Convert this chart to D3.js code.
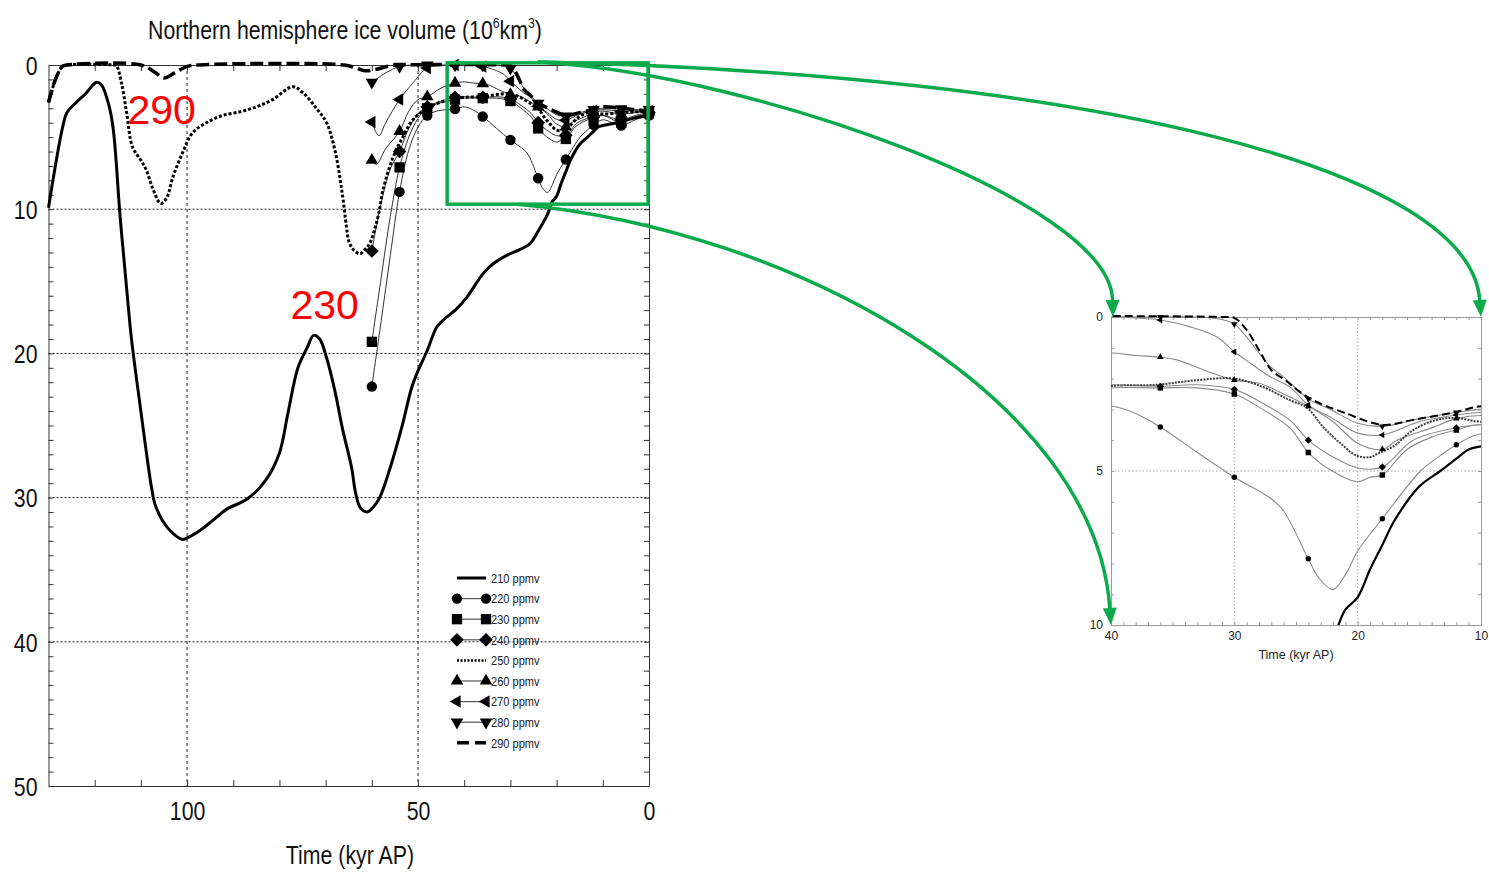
<!DOCTYPE html>
<html><head><meta charset="utf-8">
<script src="https://cdn.jsdelivr.net/npm/d3@7"></script>
<style>
body{margin:0;background:#fff;}
svg{display:block;}
.nar{font-family:"Liberation Sans",Arial,Helvetica,sans-serif;}
.reg{font-family:"Liberation Sans",Arial,Helvetica,sans-serif;}
</style></head><body>
<svg id="c" width="1489" height="872"></svg>
<script>
// ---------------- DATA (kyr AP, 10^6 km^3) ----------------
const seriesNames = ["210 ppmv","220 ppmv","230 ppmv","240 ppmv","250 ppmv","260 ppmv","270 ppmv","280 ppmv","290 ppmv"];

const ice210 = [[130,9.9],[127,4.4],[126,3.3],[124,2.6],[122,2.0],[119.6,1.2],[118.5,1.4],[117,2.7],[116,4.4],[114.5,10.5],[113,15.8],[112,19.1],[110.3,23.3],[108.8,26.9],[107.7,29.3],[107,30.4],[105.3,31.6],[103,32.5],[101,32.9],[100,32.8],[97.3,32.3],[94.5,31.6],[91.4,30.8],[87,30.1],[83,28.8],[80,26.9],[78.2,24.2],[76,21.0],[74,19.6],[72.6,18.75],[71.3,19.0],[69.8,20.3],[68,22.6],[66.3,25.3],[64.4,27.9],[63.5,29.7],[62.5,30.7],[61,31.0],[59.8,30.7],[58.3,30.0],[56,27.9],[53.5,25.1],[51.4,22.4],[50,21.2],[48,19.8],[46,18.2],[44.6,17.7],[41.6,16.9],[39.4,16.1],[36,14.5],[33.8,13.8],[30.8,13.2],[28,12.8],[25.8,12.4],[23.6,11.3],[21.9,10.3],[21,9.5],[20,9.1],[19,8.2],[18,7.4],[17,6.6],[15,5.5],[13.3,5.0],[12,4.6],[11,4.3],[10,4.2],[7,4.0],[3.5,3.7],[0,3.5]];

const ice220 = [[60,22.3],[58,17.8],[56,13.2],[54,8.8],[52,5.9],[50,4.3],[48,3.5],[46,3.2],[44,3.1],[42,3.05],[40,2.9],[38.2,3.1],[36,3.57],[33,4.4],[30,5.2],[27,5.9],[26,6.3],[24,7.85],[23.1,8.5],[22,8.85],[20.9,8.3],[20,7.6],[18,6.55],[14.9,5.0],[13.3,4.5],[12,4.15],[10,3.8],[6,4.2],[3,3.8],[0,3.5]];

const ice230 = [[60,19.2],[58,14.8],[56,10.5],[54,7.1],[52,5.0],[50,3.7],[48,3.0],[45,2.6],[42,2.4],[40,2.3],[36,2.3],[33,2.3],[30,2.5],[27.7,3.0],[25.5,3.6],[24,4.4],[22.2,4.97],[20,5.35],[19,5.2],[18,5.13],[16,4.3],[14,3.9],[12,3.67],[10,3.5],[6,4.0],[3,3.6],[0,3.35]];

const ice240 = [[60,12.9],[58,9.6],[56,7.2],[54,6.0],[52,4.4],[50,3.4],[48,2.9],[45,2.5],[42,2.25],[40,2.2],[36,2.25],[33,2.2],[30,2.35],[27.7,2.8],[25.5,3.35],[24,4.0],[22.2,4.5],[20,4.9],[18,4.87],[15.5,4.0],[12,3.6],[10,3.5],[6,3.8],[3,3.5],[0,3.3]];

const ice250 = [[130,2.6],[128.7,1.2],[127,0.1],[126,0],[116,0],[115.3,0.05],[114.2,1.25],[113.1,3.3],[111.8,5.7],[110,6.6],[108.8,7.3],[107.5,8.5],[105.7,9.6],[104.4,9.2],[103.1,7.8],[101,6.1],[98.8,4.7],[95.8,4.0],[92.3,3.5],[88.6,3.25],[85,2.9],[81.5,2.4],[77.1,1.5],[75,1.9],[72,3.0],[69.8,4.0],[68,5.9],[66.5,8.7],[65.5,11.2],[65,12.2],[64,12.8],[62.6,13.1],[61.5,12.8],[60.5,12.4],[59.5,11.5],[58.5,10.3],[57.6,8.7],[55.4,6.4],[53.3,5.0],[51.1,3.8],[48.1,3.0],[45.3,2.6],[42.5,2.4],[40,2.24],[36.3,2.2],[33,2.05],[30,2.0],[27.7,2.27],[25.5,2.7],[24.1,2.95],[22.8,3.57],[21.4,4.1],[20.1,4.5],[19,4.55],[18.2,4.4],[17.1,4.2],[15.5,3.67],[13.6,3.34],[12,3.28],[10,3.4],[6,3.3],[0,3.2]];

const ice260 = [[60,6.6],[59,6.9],[57,5.8],[54,4.6],[52,3.2],[50,2.4],[48,2.2],[45,1.6],[42,1.25],[40,1.17],[38,1.25],[36,1.3],[34.6,1.4],[32.5,1.72],[30,2.05],[28,2.15],[26,2.5],[24,2.9],[22,3.4],[20,4.1],[18,4.3],[16.8,4.0],[14,3.6],[12,3.3],[10,3.2],[6,3.4],[3,3.3],[0,3.25]];

const ice270 = [[60,3.95],[58.5,4.9],[57,4.0],[54,2.4],[51,1.2],[48,0.2],[45,0.05],[42,0],[40,0],[36,0.1],[33.6,0.32],[31.4,0.65],[30,1.13],[28.7,1.5],[27.1,1.94],[25.5,2.27],[24,2.86],[22,3.3],[20,3.77],[18,3.83],[15,3.4],[12,3.18],[10,3.1],[6,3.2],[3,3.2],[0,3.2]];

const ice280 = [[60,1.2],[57,0.55],[54,0.1],[51,0],[48,0],[42,0],[36,0],[33,0],[31,0.08],[30,0.23],[29,0.65],[28.2,1.07],[27.1,1.6],[26,1.95],[24,2.66],[22.2,3.0],[20,3.45],[18,3.55],[15,3.3],[12,3.1],[10,3.0],[6,3.05],[3,3.1],[0,3.1]];

const ice290 = [[130,2.6],[128.5,1.0],[127,0.1],[126,0],[110,0],[107,0.5],[105,0.9],[102.7,0.55],[100,0.1],[98,0],[66,0],[63.5,0.2],[61.5,0.4],[59,0.3],[56,0.05],[54,0],[31,0],[30,0.03],[29,0.42],[28,1.07],[27,1.72],[25.7,2.1],[24.7,2.43],[23.3,2.76],[21,3.12],[18,3.5],[15.5,3.34],[12,3.08],[10,2.9],[6,3.0],[0,3.2]];

const mainXTicks = [100,50,0];
const mainYTicks = [0,10,20,30,40,50];
const insetXTicks = [40,30,20,10];
const insetYTicks = [0,5,10];
const annotations = [["290",105.5,4.1],["230",70.2,17.6]];
const zoomBox = [43.7,0.2,-0.15,9.65]; // kyr from, kyr to, vol top, vol bottom

// ---------------- SETUP ----------------
const NARROW = 0.82;
const seriesData = [ice210,ice220,ice230,ice240,ice250,ice260,ice270,ice280,ice290];
const markerKind = [null,"circle","square","diamond",null,"triUp","triLeft","triDown",null];
const svg = d3.select("#c");
const x = d3.scaleLinear().domain([130,0]).range([48.5,649]);
const y = d3.scaleLinear().domain([0,50]).range([65,786]);
const xi = d3.scaleLinear().domain([40,10]).range([1111,1481]);
const yi = d3.scaleLinear().domain([0,10]).range([317,625]);

const diamond = {draw(c,s){const r=Math.sqrt(s/2);c.moveTo(0,-r);c.lineTo(r,0);c.lineTo(0,r);c.lineTo(-r,0);c.closePath();}};
function symPath(kind,size){
  const t = {circle:d3.symbolCircle,square:d3.symbolSquare,diamond:diamond,triUp:d3.symbolTriangle,triLeft:d3.symbolTriangle,triDown:d3.symbolTriangle}[kind];
  const sz = {circle:1,square:1.25,diamond:1.1,triUp:0.8,triLeft:0.8,triDown:0.8}[kind]*size;
  return d3.symbol().type(t).size(sz)();
}
const rot = {circle:0,square:0,diamond:0,triUp:0,triLeft:-90,triDown:180};

// narrow text helper: horizontally compress text around its anchor point
function narrowText(sel){
  sel.each(function(){
    const t = d3.select(this);
    const tx = +t.attr("x") || 0, ty = +t.attr("y") || 0;
    t.attr("x",0).attr("y",0).attr("transform",`translate(${tx},${ty}) scale(${NARROW},1)`);
  });
}

function lineStyle(i, inset){
  if(i===0) return {w: inset?2.2:3, dash:null, c:"#000"};
  if(i===4) return {w: inset?2:3, dash: inset?"2,1.2":"3,2", c: inset?"#3a3a3a":"#000"};
  if(i===8) return {w: inset?2:3.5, dash: inset?"8,4":"13,5", c:"#000"};
  return {w: inset?1.1:1, dash:null, c: inset?"#8a8a8a":"#333"};
}

function drawPanel(g, xs, ys, inset){
  const line = d3.line().x(d=>xs(d[0])).y(d=>ys(d[1])).curve(d3.curveCatmullRom.alpha(0.5));
  const order = [1,2,3,5,6,7,4,8,0];
  order.forEach(i=>{
    const st = lineStyle(i,inset);
    g.append("path").attr("d", line(seriesData[i])).attr("fill","none")
      .attr("stroke", st.c).attr("stroke-width", st.w)
      .attr("stroke-dasharray", st.dash).attr("stroke-linejoin","round");
  });
  [1,2,3,5,6,7].forEach(i=>{
    const k = markerKind[i];
    const pts = seriesData[i].filter(d=>Math.abs(d[0]%6)<1e-9);
    g.selectAll(null).data(pts).enter().append("path")
      .attr("d", symPath(k, inset?24:85))
      .attr("transform", d=>`translate(${xs(d[0])},${ys(d[1])}) rotate(${rot[k]})`)
      .attr("fill","#000");
  });
}

// ---------------- MAIN PANEL ----------------
const main = svg.append("g");
main.selectAll(null).data([10,20,30,40]).enter().append("line")
  .attr("x1",x(130)).attr("x2",x(0)).attr("y1",d=>y(d)).attr("y2",d=>y(d))
  .attr("stroke","#222").attr("stroke-width",1).attr("stroke-dasharray","2,2");
main.selectAll(null).data([100,50]).enter().append("line")
  .attr("y1",y(0)).attr("y2",y(50)).attr("x1",d=>x(d)).attr("x2",d=>x(d))
  .attr("stroke","#222").attr("stroke-width",1).attr("stroke-dasharray","3,3");
const ayL = main.append("g").attr("transform",`translate(${x(130)},0)`)
  .call(d3.axisLeft(y).tickValues(d3.range(0,51,1)).tickSizeInner(-5).tickSizeOuter(0).tickPadding(11)
    .tickFormat(d=>mainYTicks.includes(d)?d:""));
const ayR = main.append("g").attr("transform",`translate(${x(0)},0)`)
  .call(d3.axisRight(y).tickValues(d3.range(0,51,1)).tickSizeInner(-5).tickSizeOuter(0).tickFormat(""));
const axB = main.append("g").attr("transform",`translate(0,${y(50)})`)
  .call(d3.axisBottom(x).tickValues(d3.range(120,-1,-10)).tickSizeInner(-6).tickSizeOuter(0).tickPadding(15)
    .tickFormat(d=>mainXTicks.includes(d)?d:""));
const axT = main.append("g").attr("transform",`translate(0,${y(0)})`)
  .call(d3.axisTop(x).tickValues(d3.range(120,-1,-10)).tickSizeInner(-6).tickSizeOuter(0).tickFormat(""));
[ayL,ayR,axB,axT].forEach(a=>{a.select(".domain").attr("stroke","#333");a.selectAll(".tick line").attr("stroke","#333");});
ayL.selectAll("text").attr("class","nar").attr("font-size",26).attr("fill","#111").attr("dy","0.36em").call(narrowText);
axB.selectAll("text").attr("class","nar").attr("font-size",26).attr("fill","#111").attr("dy","0.72em").call(narrowText);

drawPanel(main, x, y, false);

// title
const title = svg.append("text").attr("class","nar").attr("x",345).attr("y",39)
  .attr("text-anchor","middle").attr("font-size",26).attr("fill","#111");
title.append("tspan").text("Northern hemisphere ice volume (10");
title.append("tspan").attr("font-size",15).attr("dy",-11).text("6");
title.append("tspan").attr("dy",11).text("km");
title.append("tspan").attr("font-size",15).attr("dy",-11).text("3");
title.append("tspan").attr("dy",11).text(")");
title.call(narrowText);
svg.append("text").attr("class","nar").attr("x",350).attr("y",864).attr("text-anchor","middle")
  .attr("font-size",26).attr("fill","#111").text("Time (kyr AP)").call(narrowText);

// red annotations
svg.selectAll(null).data(annotations).enter().append("text").attr("class","reg")
  .attr("x",d=>x(d[1])).attr("y",d=>y(d[2])).attr("text-anchor","middle")
  .attr("font-size",41).attr("fill","#ff0000").text(d=>d[0]);

// legend
const lg = svg.append("g");
seriesNames.forEach((name,i)=>{
  const ly = 578 + i*20.6, lx0 = 457, lx1 = 486;
  lg.append("line").attr("x1",lx0).attr("x2",lx1).attr("y1",ly).attr("y2",ly)
    .attr("stroke", (i===0||i===4||i===8)?"#000":"#555").attr("stroke-width", i===0?3:(i===4?2.5:(i===8?3.5:1.2)))
    .attr("stroke-dasharray", i===4?"2,1.5":(i===8?"12,6":null));
  const k = markerKind[i];
  if(k){
    [lx0,lx1].forEach(px=>lg.append("path").attr("d",symPath(k,85))
      .attr("transform",`translate(${px},${ly}) rotate(${rot[k]})`).attr("fill","#000"));
  }
  lg.append("text").attr("class","nar").attr("x",491).attr("y",ly).attr("dy","0.35em")
    .attr("font-size",13.5).attr("fill","#222").text(name).call(narrowText);
});

// ---------------- INSET ----------------
const ins = svg.append("g");
ins.append("line").attr("x1",xi(40)).attr("x2",xi(10)).attr("y1",yi(5)).attr("y2",yi(5))
  .attr("stroke","#aaa").attr("stroke-dasharray","1.5,2");
ins.selectAll(null).data([30,20]).enter().append("line").attr("x1",d=>xi(d)).attr("x2",d=>xi(d))
  .attr("y1",yi(0)).attr("y2",yi(10)).attr("stroke","#aaa").attr("stroke-dasharray","1.5,2");
const iyL = ins.append("g").attr("transform",`translate(${xi(40)},0)`)
  .call(d3.axisLeft(yi).tickValues(d3.range(0,11,1)).tickSizeInner(-3).tickSizeOuter(0).tickPadding(8)
    .tickFormat(d=>insetYTicks.includes(d)?d:""));
const iyR = ins.append("g").attr("transform",`translate(${xi(10)},0)`)
  .call(d3.axisRight(yi).tickValues(d3.range(0,11,1)).tickSizeInner(-3).tickSizeOuter(0).tickFormat(""));
const ixB = ins.append("g").attr("transform",`translate(0,${yi(10)})`)
  .call(d3.axisBottom(xi).tickValues(d3.range(40,9,-1)).tickSizeInner(-3).tickSizeOuter(0).tickPadding(6)
    .tickFormat(d=>insetXTicks.includes(d)?d:""));
const ixT = ins.append("g").attr("transform",`translate(0,${yi(0)})`)
  .call(d3.axisTop(xi).tickValues(d3.range(40,9,-1)).tickSizeInner(-3).tickSizeOuter(0).tickFormat(""));
[iyL,iyR,ixB,ixT].forEach(a=>{a.select(".domain").attr("stroke","#999");a.selectAll(".tick line").attr("stroke","#999");});
iyL.selectAll("text").attr("class","reg").attr("font-size",12).attr("fill","#222");
ixB.selectAll("text").attr("class","reg").attr("font-size",12).attr("fill","#222");
svg.append("text").attr("class","reg").attr("x",1296).attr("y",659).attr("text-anchor","middle")
  .attr("font-size",12.5).attr("fill","#222").text("Time (kyr AP)");

svg.append("clipPath").attr("id","clipIns").append("rect")
  .attr("x",xi(40)).attr("y",yi(0)-4).attr("width",xi(10)-xi(40)).attr("height",yi(10)-yi(0)+4);
const insData = ins.append("g").attr("clip-path","url(#clipIns)");
drawPanel(insData, xi, yi, true);

// ---------------- GREEN ZOOM BOX + ARROWS ----------------
const green = "#0bab4b";
const bx0 = x(zoomBox[0]), bx1 = x(zoomBox[1]), by0 = y(zoomBox[2]), by1 = y(zoomBox[3]);
svg.append("rect").attr("x",bx0).attr("y",by0).attr("width",bx1-bx0).attr("height",by1-by0)
  .attr("fill","none").attr("stroke",green).attr("stroke-width",3.5);

function arrow(p0,p1,p2,p3){
  const L = 17, hw = 7;
  const dx = p3[0]-p2[0], dy = p3[1]-p2[1], n = Math.hypot(dx,dy), ux = dx/n, uy = dy/n;
  const b = [p3[0]-ux*L, p3[1]-uy*L];
  const p = d3.path(); p.moveTo(...p0); p.bezierCurveTo(...p1,...p2,...b);
  svg.append("path").attr("d",p.toString()).attr("fill","none").attr("stroke",green).attr("stroke-width",3.5);
  const h = d3.path(); h.moveTo(...p3); h.lineTo(b[0]-uy*hw, b[1]+ux*hw); h.lineTo(b[0]+uy*hw, b[1]-ux*hw); h.closePath();
  svg.append("path").attr("d",h.toString()).attr("fill",green);
}
const boxMidX = (bx0+bx1)/2;
arrow([boxMidX-10,by0-1],[1100,75],[1470,170],[xi(10),yi(0)]);
arrow([boxMidX,by0],[750,75],[1110,200],[xi(40)+2,yi(0)]);
arrow([boxMidX-30,by1],[800,230],[1095,400],[xi(40),yi(10)]);
</script>
</body></html>
